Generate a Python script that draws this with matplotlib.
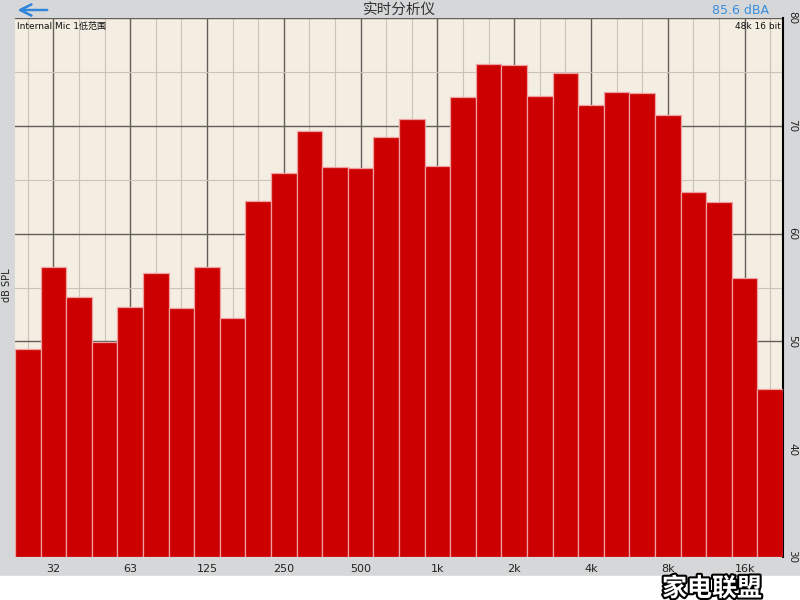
import matplotlib.pyplot as plt
import matplotlib.patheffects as pe
from matplotlib.ticker import FixedLocator

plt.rcParams['font.family'] = ['DejaVu Sans', 'Noto Sans CJK SC']

# 1/3 octave bands, 25 Hz .. 20 kHz
bands = ['25', '31.5', '40', '50', '63', '80', '100', '125', '160', '200',
         '250', '315', '400', '500', '630', '800', '1k', '1.25k', '1.6k', '2k',
         '2.5k', '3.15k', '4k', '5k', '6.3k', '8k', '10k', '12.5k', '16k', '20k']
levels = [49.3, 56.9, 54.1, 49.9, 53.2, 56.3, 53.1, 56.9, 52.2, 63.0,
          65.6, 69.5, 66.2, 66.1, 69.0, 70.6, 66.3, 72.7, 75.7, 75.6,
          72.8, 74.9, 71.9, 73.1, 73.0, 71.0, 63.9, 62.9, 55.9, 45.6]
octave_labels = ['32', '63', '125', '250', '500', '1k', '2k', '4k', '8k', '16k']
octave_idx = [1, 4, 7, 10, 13, 16, 19, 22, 25, 28]
db_ticks = [30, 40, 50, 60, 70, 80]
db_minor = [35, 45, 55, 65, 75]

fig = plt.figure(figsize=(8, 6), dpi=100)
fig.patch.set_facecolor('#d6d7d8')

# white strip at the very bottom
fig.add_artist(plt.Rectangle((0, 0), 1, 24 / 600, transform=fig.transFigure,
                             color='white', zorder=0))

ax = fig.add_axes([15 / 800, 43 / 600, 768 / 800, 539 / 600])
ax.set_facecolor('#f4ede1')

x = list(range(len(bands)))
ax.bar(x, [v - 30 for v in levels], bottom=30, width=1.0, color='#cc0000',
       edgecolor='#f0a0a0', linewidth=0.9, zorder=3)

ax.set_xlim(-0.5, len(bands) - 0.5)
ax.set_ylim(30, 80)

ax.xaxis.set_major_locator(FixedLocator(octave_idx))
ax.xaxis.set_minor_locator(FixedLocator(x))
ax.set_xticklabels(octave_labels)
ax.set_yticks(db_ticks)
ax.yaxis.set_minor_locator(FixedLocator(db_minor))
ax.grid(which='major', color='#625e5a', linewidth=1.0)
ax.grid(which='minor', color='#cbc3b8', linewidth=0.8)
ax.set_axisbelow(True)

ax.yaxis.tick_right()
ax.tick_params(axis='both', which='both', length=0)
ax.tick_params(axis='x', labelsize=8, colors='#222222', pad=5)
ax.tick_params(axis='y', labelsize=7.5, colors='#222222', pad=3)
for lbl in ax.get_yticklabels():
    lbl.set_rotation(-90)
    lbl.set_va('center')

for side in ['left', 'top', 'bottom']:
    ax.spines[side].set_visible(False)
ax.spines['right'].set_color('black')
ax.spines['right'].set_linewidth(1.5)

ax.text(0.003, 0.993, 'Internal Mic 1低范围', transform=ax.transAxes,
        fontsize=6.5, va='top', ha='left', color='#111111',
        family=['DejaVu Sans', 'Noto Sans CJK SC'], zorder=5)
ax.text(0.997, 0.993, '48k 16 bit', transform=ax.transAxes,
        fontsize=6.5, va='top', ha='right', color='#111111', zorder=5)

fig.text(7 / 800, 1 - 285 / 600, 'dB SPL', rotation=90, fontsize=7,
         va='center', ha='center', color='#222222')

# header
fig.text(0.5, 1 - 10 / 600, '实时分析仪', fontsize=10.5, ha='center', va='center',
         color='#333333', family=['Noto Sans CJK SC', 'DejaVu Sans'])
fig.text(740 / 800, 1 - 10 / 600, '85.6 dBA', fontsize=9, ha='center',
         va='center', color='#3a8ede')
fig.add_artist(plt.annotate('', xy=(15 / 800, 1 - 10 / 600),
                            xytext=(50 / 800, 1 - 10 / 600),
                            xycoords='figure fraction',
                            arrowprops=dict(arrowstyle='->', color='#2f86dc',
                                            lw=1.6, mutation_scale=20)))

# watermark
fig.text(712 / 800, 1 - 589 / 600, '家电联盟', fontsize=18, ha='center',
         va='center', color='white', weight='bold',
         family=['Noto Sans CJK SC', 'DejaVu Sans'],
         path_effects=[pe.withStroke(linewidth=3, foreground='black')])

fig.savefig('out.png', dpi=100)
